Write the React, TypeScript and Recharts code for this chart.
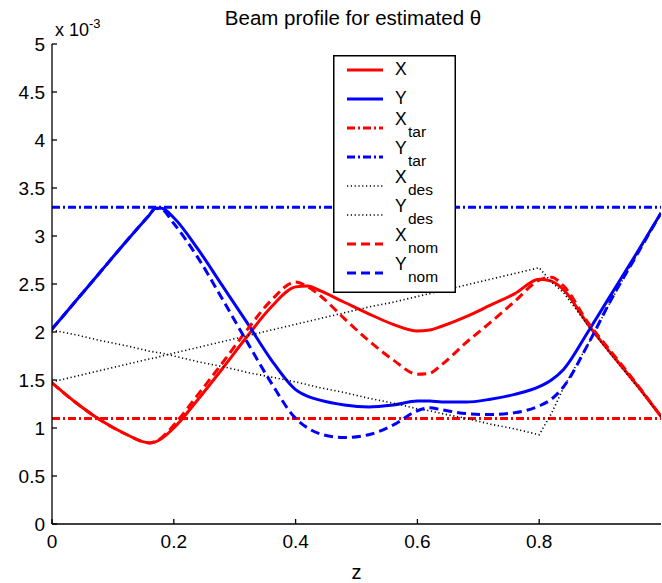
import React from 'react';
import { LineChart, Line, XAxis, YAxis, Legend, Label } from 'recharts';

const zValues = [0, 0.04, 0.08, 0.12, 0.16, 0.17, 0.18, 0.2, 0.24, 0.28, 0.32, 0.36, 0.4, 0.42, 0.44, 0.48, 0.52, 0.56, 0.6, 0.62, 0.64, 0.68, 0.72, 0.76, 0.8, 0.82, 0.84, 0.88, 0.92, 0.96, 1.0];

const xVals = [1.47, 1.26, 1.08, 0.94, 0.845, 0.855, 0.89, 1.00, 1.30, 1.62, 1.95, 2.26, 2.47, 2.48, 2.43, 2.31, 2.19, 2.08, 2.01, 2.02, 2.06, 2.16, 2.28, 2.40, 2.55, 2.53, 2.44, 2.08, 1.76, 1.45, 1.12];
const yVals = [2.03, 2.33, 2.63, 2.93, 3.22, 3.29, 3.29, 3.19, 2.86, 2.48, 2.10, 1.71, 1.40, 1.33, 1.29, 1.24, 1.22, 1.24, 1.28, 1.28, 1.27, 1.27, 1.30, 1.35, 1.43, 1.50, 1.61, 2.00, 2.41, 2.82, 3.24];
const xTarVals = [1.1, 1.1, 1.1, 1.1, 1.1, 1.1, 1.1, 1.1, 1.1, 1.1, 1.1, 1.1, 1.1, 1.1, 1.1, 1.1, 1.1, 1.1, 1.1, 1.1, 1.1, 1.1, 1.1, 1.1, 1.1, 1.1, 1.1, 1.1, 1.1, 1.1, 1.1];
const yTarVals = [3.3, 3.3, 3.3, 3.3, 3.3, 3.3, 3.3, 3.3, 3.3, 3.3, 3.3, 3.3, 3.3, 3.3, 3.3, 3.3, 3.3, 3.3, 3.3, 3.3, 3.3, 3.3, 3.3, 3.3, 3.3, 3.3, 3.3, 3.3, 3.3, 3.3, 3.3];
const xDesVals = [1.48, 1.54, 1.60, 1.66, 1.72, 1.73, 1.75, 1.78, 1.84, 1.90, 1.96, 2.02, 2.08, 2.11, 2.14, 2.20, 2.26, 2.31, 2.37, 2.40, 2.43, 2.49, 2.55, 2.61, 2.67, 2.52, 2.41, 2.07, 1.75, 1.44, 1.12];
const yDesVals = [2.02, 1.97, 1.91, 1.86, 1.80, 1.79, 1.78, 1.75, 1.69, 1.64, 1.58, 1.53, 1.48, 1.45, 1.42, 1.37, 1.31, 1.26, 1.20, 1.18, 1.15, 1.10, 1.04, 0.99, 0.93, 1.15, 1.42, 1.87, 2.35, 2.80, 3.24];
const xNomVals = [1.47, 1.26, 1.08, 0.94, 0.845, 0.86, 0.90, 1.03, 1.35, 1.68, 2.02, 2.33, 2.52, 2.47, 2.38, 2.14, 1.91, 1.71, 1.56, 1.57, 1.66, 1.89, 2.10, 2.32, 2.54, 2.57, 2.48, 2.10, 1.78, 1.46, 1.12];
const yNomVals = [2.03, 2.33, 2.63, 2.93, 3.22, 3.29, 3.28, 3.13, 2.77, 2.34, 1.90, 1.47, 1.10, 1.00, 0.94, 0.90, 0.93, 1.03, 1.18, 1.21, 1.19, 1.15, 1.14, 1.16, 1.23, 1.30, 1.43, 1.87, 2.36, 2.80, 3.24];

const xTicks = [0, 0.2, 0.4, 0.6, 0.8];
const yTicks = [0, 0.5, 1, 1.5, 2, 2.5, 3, 3.5, 4, 4.5, 5];

const seriesKeys = ['X', 'Y', 'Xtar', 'Ytar', 'Xdes', 'Ydes', 'Xnom', 'Ynom'];
const seriesLetters = ['X', 'Y', 'X', 'Y', 'X', 'Y', 'X', 'Y'];
const seriesSubs = ['', '', 'tar', 'tar', 'des', 'des', 'nom', 'nom'];
const seriesValues = [xVals, yVals, xTarVals, yTarVals, xDesVals, yDesVals, xNomVals, yNomVals];
const seriesColors = ['#ff0000', '#0000ff', '#ff0000', '#0000ff', '#000000', '#000000', '#ff0000', '#0000ff'];
const seriesDash = ['', '', '8 3 2 3', '8 3 2 3', '1.2 2.6', '1.2 2.6', '9 5', '9 5'];
const seriesWidth = [3, 3, 3, 3, 1.6, 1.6, 3, 3];
const seriesCurve = ['monotone', 'monotone', 'linear', 'linear', 'linear', 'linear', 'monotone', 'monotone'];

const tableData = zValues.map((z, i) => {
  const row: Record<string, number> = { z };
  seriesKeys.forEach((k, j) => {
    row[k] = seriesValues[j][i];
  });
  return row;
});

const FONT = '"Liberation Sans", Arial, Helvetica, sans-serif';

const LegendBox = () => {
  const w = 123;
  const h = 238;
  return (
    <svg width={w} height={h} style={{ display: 'block' }}>
      <rect x={0.75} y={0.75} width={w - 1.5} height={h - 1.5} fill="#fff" stroke="#000" strokeWidth={1.5} />
      {seriesKeys.map((k, i) => {
        const cy = 15 + i * 29;
        const sub = seriesSubs[i];
        return (
          <g key={k}>
            <line x1={14} x2={50} y1={cy} y2={cy} stroke={seriesColors[i]} strokeWidth={seriesWidth[i]} strokeDasharray={seriesDash[i] || undefined} />
            {sub ? (
              <>
                <text x={62} y={cy - 3} fontFamily={FONT} fontSize={17.5} fill="#000">{seriesLetters[i]}</text>
                <text x={75} y={cy + 9} fontFamily={FONT} fontSize={15.5} fill="#000">{sub}</text>
              </>
            ) : (
              <text x={62} y={cy + 5} fontFamily={FONT} fontSize={17.5} fill="#000">{seriesLetters[i]}</text>
            )}
          </g>
        );
      })}
    </svg>
  );
};

export default function App() {
  return (
    <div style={{ position: 'absolute', left: 0, top: 0, width: 662, height: 583, background: '#fff' }}>
      <LineChart
        width={662}
        height={583}
        data={tableData}
        margin={{ top: 44, right: 1, bottom: 0, left: 0 }}
      >
        <XAxis
          xAxisId="b"
          dataKey="z"
          type="number"
          domain={[0, 1]}
          ticks={xTicks}
          height={59}
          stroke="#000"
          strokeWidth={1.3}
          tickSize={-5}
          tickMargin={16}
          tick={{ fill: '#000', fontSize: 19, fontFamily: FONT }}
          tickFormatter={(v: number) => String(v)}
          allowDataOverflow
        >
          <Label value="z" position="insideBottom" offset={4} style={{ fill: '#000', fontSize: 20, fontFamily: FONT }} />
        </XAxis>
        <XAxis
          xAxisId="t"
          orientation="top"
          dataKey="z"
          type="number"
          domain={[0, 1]}
          ticks={xTicks}
          height={0}
          stroke="#000"
          strokeWidth={1.3}
          tickSize={-5}
          tick={false}
          allowDataOverflow
        />
        <YAxis
          yAxisId="l"
          type="number"
          domain={[0, 5]}
          ticks={yTicks}
          width={52}
          stroke="#000"
          strokeWidth={1.3}
          tickSize={-5}
          tickMargin={12}
          tick={{ fill: '#000', fontSize: 19, fontFamily: FONT }}
          allowDataOverflow
        />
        <YAxis
          yAxisId="r"
          orientation="right"
          type="number"
          domain={[0, 5]}
          ticks={yTicks}
          width={0}
          stroke="#000"
          strokeWidth={1.3}
          tickSize={-5}
          tick={false}
          allowDataOverflow
        />
        {seriesKeys.map((k, i) => (
          <Line
            key={k}
            xAxisId="b"
            yAxisId="l"
            dataKey={k}
            type={seriesCurve[i] as 'monotone' | 'linear'}
            stroke={seriesColors[i]}
            strokeWidth={seriesWidth[i]}
            strokeDasharray={seriesDash[i] || undefined}
            dot={false}
            activeDot={false}
            isAnimationActive={false}
          />
        ))}
        <Legend
          layout="vertical"
          align="center"
          verticalAlign="middle"
          content={() => <LegendBox />}
          wrapperStyle={{ position: 'absolute', left: 333, top: 55, width: 123, height: 238 }}
        />
      </LineChart>
      <svg width={662} height={44} style={{ position: 'absolute', left: 0, top: 0, pointerEvents: 'none' }}>
        <text x={353} y={25} textAnchor="middle" fontFamily={FONT} fontSize={20.5} fill="#000">
          Beam profile for estimated θ
        </text>
        <text x={55} y={36} fontFamily={FONT} fontSize={18} fill="#000">
          x 10<tspan dy={-8} fontSize={13}>-3</tspan>
        </text>
      </svg>
    </div>
  );
}
